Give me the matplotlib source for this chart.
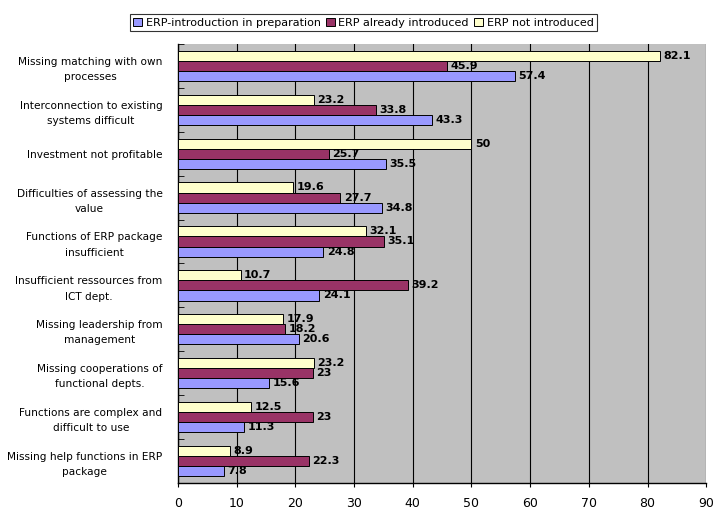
import numpy as np
import matplotlib.pyplot as plt

categories = [
    "Missing matching with own\nprocesses",
    "Interconnection to existing\nsystems difficult",
    "Investment not profitable",
    "Difficulties of assessing the\nvalue",
    "Functions of ERP package\ninsufficient",
    "Insufficient ressources from\nICT dept.",
    "Missing leadership from\nmanagement",
    "Missing cooperations of\nfunctional depts.",
    "Functions are complex and\ndifficult to use",
    "Missing help functions in ERP\npackage",
]
in_preparation = [57.4, 43.3, 35.5, 34.8, 24.8, 24.1, 20.6, 15.6, 11.3, 7.8]
already_introduced = [45.9, 33.8, 25.7, 27.7, 35.1, 39.2, 18.2, 23, 23, 22.3]
not_introduced = [82.1, 23.2, 50, 19.6, 32.1, 10.7, 17.9, 23.2, 12.5, 8.9]

series = [
    ("ERP-introduction in preparation", in_preparation, "#9999FF"),
    ("ERP already introduced", already_introduced, "#993366"),
    ("ERP not introduced", not_introduced, "#FFFFCC"),
]

fig = plt.figure(figsize=(7.17, 5.11), dpi=100)
ax = fig.add_axes([0.248, 0.055, 0.737, 0.859])
ax.set_facecolor("#C0C0C0")

y = np.arange(len(categories))
h = 0.23
offsets = [h, 0, -h]  # blue lowest, yellow on top

for (name, vals, col), off in zip(series, offsets):
    bars = ax.barh(y + off, vals, height=h, color=col, edgecolor="black",
                   linewidth=0.7, label=name, zorder=3)
    for b, v in zip(bars, vals):
        ax.text(v + 0.6, b.get_y() + b.get_height() / 2, f"{v:g}",
                va="center", ha="left", fontsize=8, fontweight="bold",
                zorder=4)

ax.set_xlim(0, 90)
ax.set_ylim(len(categories) - 0.5, -0.5)
ax.set_xticks(np.arange(0, 91, 10))
ax.tick_params(axis="x", labelsize=9, length=3, pad=7)
ax.xaxis.grid(True, color="black", linewidth=0.8, zorder=0)
ax.set_axisbelow(True)

ax.set_yticks(y)
ax.set_yticklabels(categories, fontsize=7.6, multialignment="center",
                   linespacing=1.65)
ax.tick_params(axis="y", length=0, pad=11)
ax.set_yticks(np.arange(len(categories) + 1) - 0.5, minor=True)
ax.tick_params(axis="y", which="minor", length=4, direction="in")

for s in ["top", "right"]:
    ax.spines[s].set_visible(False)
ax.spines["left"].set_linewidth(1)
ax.spines["bottom"].set_linewidth(1)

leg = fig.legend(loc="upper center", bbox_to_anchor=(0.507, 0.983), ncol=3,
                 fontsize=8, frameon=True, fancybox=False, handlelength=0.8,
                 handleheight=0.8, handletextpad=0.3, columnspacing=0.5,
                 borderpad=0.3)
leg.get_frame().set_edgecolor("black")
leg.get_frame().set_linewidth(0.8)

fig.savefig("out.png", dpi=100)
